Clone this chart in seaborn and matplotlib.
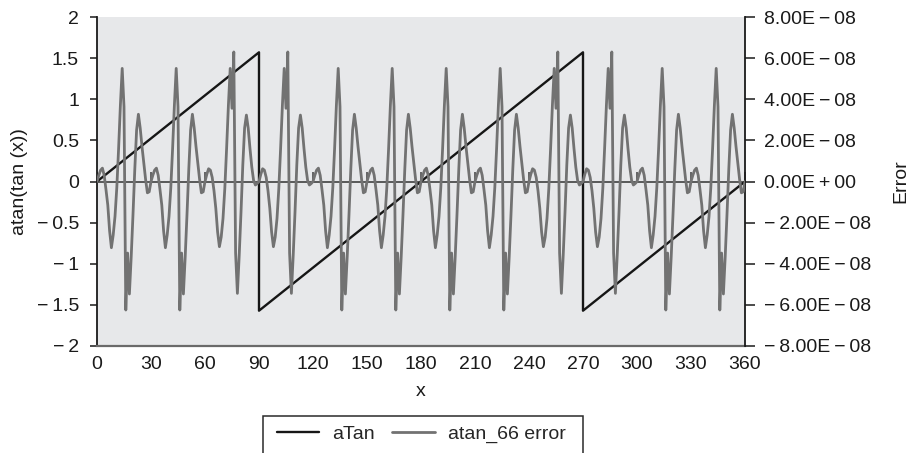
import numpy as np
import pandas as pd
import matplotlib
matplotlib.use("Agg")
import matplotlib.pyplot as plt
import seaborn as sns
from matplotlib.patches import Rectangle

# ---- data -----------------------------------------------------------------
# atan(tan(x)) in radians, x in degrees (sawtooth with jumps at 90 and 270)
atan_x = [0, 90, 90, 270, 270, 360]
atan_y = [0.0, 1.5708, -1.5708, 1.5708, -1.5708, 0.0]

# atan_66 error in units of 1e-8, one value per degree, in 30-degree stretches
err_000 = [0.00, 0.30, 0.55, 0.65, 0.30, -0.40, -1.15, -2.40, -3.22, -2.60, -1.70, -0.30, 1.60, 3.72, 5.50,
           3.64, -6.25, -3.48, -5.47, -3.66, -1.60, 0.60, 2.50, 3.27, 2.60, 1.70, 0.90, 0.10, -0.55, -0.50]
err_030 = [0.00, 0.30, 0.55, 0.65, 0.30, -0.40, -1.15, -2.40, -3.22, -2.60, -1.70, -0.30, 1.60, 3.72, 5.50,
           3.64, -6.25, -3.48, -5.47, -3.66, -1.60, 0.60, 2.50, 3.27, 2.60, 1.70, 0.90, 0.10, -0.55, -0.50]
err_060 = [0.00, 0.35, 0.62, 0.55, 0.20, -0.45, -1.30, -2.45, -3.17, -2.70, -1.80, -0.35, 1.60, 3.70, 5.50,
           3.56, 6.30, -3.48, -5.44, -3.60, -1.50, 0.80, 2.60, 3.23, 2.60, 1.60, 0.70, 0.05, -0.17, -0.10]
err_090 = [0.00, 0.35, 0.62, 0.55, 0.20, -0.45, -1.30, -2.45, -3.17, -2.70, -1.80, -0.35, 1.60, 3.70, 5.50,
           3.56, 6.30, -3.48, -5.44, -3.60, -1.50, 0.80, 2.60, 3.23, 2.60, 1.60, 0.70, 0.05, -0.17, -0.10]
err_120 = [0.00, 0.30, 0.55, 0.65, 0.30, -0.40, -1.15, -2.40, -3.22, -2.60, -1.70, -0.30, 1.60, 3.72, 5.50,
           3.64, -6.25, -3.48, -5.47, -3.66, -1.60, 0.60, 2.50, 3.27, 2.60, 1.70, 0.90, 0.10, -0.55, -0.50]
err_150 = [0.00, 0.30, 0.55, 0.65, 0.30, -0.40, -1.15, -2.40, -3.22, -2.60, -1.70, -0.30, 1.60, 3.72, 5.50,
           3.64, -6.25, -3.48, -5.47, -3.66, -1.60, 0.60, 2.50, 3.27, 2.60, 1.70, 0.90, 0.10, -0.55, -0.50]
err_180 = [0.00, 0.30, 0.55, 0.65, 0.30, -0.40, -1.15, -2.40, -3.22, -2.60, -1.70, -0.30, 1.60, 3.72, 5.50,
           3.64, -6.25, -3.48, -5.47, -3.66, -1.60, 0.60, 2.50, 3.27, 2.60, 1.70, 0.90, 0.10, -0.55, -0.50]
err_210 = [0.00, 0.30, 0.55, 0.65, 0.30, -0.40, -1.15, -2.40, -3.22, -2.60, -1.70, -0.30, 1.60, 3.72, 5.50,
           3.64, -6.25, -3.48, -5.47, -3.66, -1.60, 0.60, 2.50, 3.27, 2.60, 1.70, 0.90, 0.10, -0.55, -0.50]
err_240 = [0.00, 0.35, 0.62, 0.55, 0.20, -0.45, -1.30, -2.45, -3.17, -2.70, -1.80, -0.35, 1.60, 3.70, 5.50,
           3.56, 6.30, -3.48, -5.44, -3.60, -1.50, 0.80, 2.60, 3.23, 2.60, 1.60, 0.70, 0.05, -0.17, -0.10]
err_270 = [0.00, 0.35, 0.62, 0.55, 0.20, -0.45, -1.30, -2.45, -3.17, -2.70, -1.80, -0.35, 1.60, 3.70, 5.50,
           3.56, 6.30, -3.48, -5.44, -3.60, -1.50, 0.80, 2.60, 3.23, 2.60, 1.60, 0.70, 0.05, -0.17, -0.10]
err_300 = [0.00, 0.30, 0.55, 0.65, 0.30, -0.40, -1.15, -2.40, -3.22, -2.60, -1.70, -0.30, 1.60, 3.72, 5.50,
           3.64, -6.25, -3.48, -5.47, -3.66, -1.60, 0.60, 2.50, 3.27, 2.60, 1.70, 0.90, 0.10, -0.55, -0.50]
err_330 = [0.00, 0.30, 0.55, 0.65, 0.30, -0.40, -1.15, -2.40, -3.22, -2.60, -1.70, -0.30, 1.60, 3.72, 5.50,
           3.64, -6.25, -3.48, -5.47, -3.66, -1.60, 0.60, 2.50, 3.27, 2.60, 1.70, 0.90, 0.10, -0.55, -0.50]
err_360 = [0.00]

x_ticks = [0, 30, 60, 90, 120, 150, 180, 210, 240, 270, 300, 330, 360]
left_ticks = [-2, -1.5, -1, -0.5, 0, 0.5, 1, 1.5, 2]
left_labels = ["\u2212\u20092", "\u2212\u20091.5", "\u2212\u20091", "\u2212\u20090.5", "0",
               "0.5", "1", "1.5", "2"]
right_ticks = [-8e-8, -6e-8, -4e-8, -2e-8, 0, 2e-8, 4e-8, 6e-8, 8e-8]
right_labels = ["\u2212\u20098.00E\u2009\u2212\u200908", "\u2212\u20096.00E\u2009\u2212\u200908",
                "\u2212\u20094.00E\u2009\u2212\u200908", "\u2212\u20092.00E\u2009\u2212\u200908",
                "0.00E\u2009+\u200900",
                "2.00E\u2009\u2212\u200908", "4.00E\u2009\u2212\u200908",
                "6.00E\u2009\u2212\u200908", "8.00E\u2009\u2212\u200908"]

# ---- frames -----------------------------------------------------------------
error_e8 = (err_000 + err_030 + err_060 + err_090 + err_120 + err_150 + err_180 +
            err_210 + err_240 + err_270 + err_300 + err_330 + err_360)
angle_deg = np.arange(len(error_e8))
err_df = pd.DataFrame({"x": angle_deg, "err": np.array(error_e8) * 1e-8})
atan_df = pd.DataFrame({"x": atan_x, "y": atan_y})

# ---- style ------------------------------------------------------------------
sns.set_style("white")
plt.rcParams["font.family"] = ["Liberation Sans", "DejaVu Sans"]
plt.rcParams["font.size"] = 14

W, H = 914, 453
fig = plt.figure(figsize=(W / 100, H / 100), dpi=100)
fig.patch.set_facecolor("white")
left_px, right_px, top_px, bottom_px = 97, 745, 17, 346
ax = fig.add_axes([left_px / W, 1 - bottom_px / H, (right_px - left_px) / W, (bottom_px - top_px) / H])
ax.set_facecolor("#e7e8ea")
ax2 = ax.twinx()
ax2.patch.set_visible(False)

# zero line with upward tick marks every 30 degrees
ax.axhline(0, color="#4d4d4d", lw=1.3, zorder=1)
ax.plot(x_ticks, [0] * len(x_ticks), ls="none", marker=2, ms=7, mew=1.2, color="#4d4d4d", zorder=1)

sns.lineplot(data=atan_df, x="x", y="y", ax=ax, color="#161616", lw=1.7,
             estimator=None, sort=False, legend=False, zorder=3)
sns.lineplot(data=err_df, x="x", y="err", ax=ax2, color="#727272", lw=2.0,
             estimator=None, sort=False, legend=False, zorder=3)

ax.set_xlim(0, 360)
ax.set_ylim(-2, 2)
ax2.set_ylim(-8e-8, 8e-8)

ax.set_xticks(x_ticks)
ax.set_xticklabels([str(v) for v in x_ticks])
ax.tick_params(axis="x", length=0, pad=7, labelsize=14, colors="#1a1a1a")
ax.set_yticks(left_ticks)
ax.set_yticklabels(left_labels)
ax.tick_params(axis="y", direction="out", length=5, width=1.1, pad=8, labelsize=14, colors="#1a1a1a", left=True)
ax2.set_yticks(right_ticks)
ax2.set_yticklabels(right_labels)
ax2.tick_params(axis="y", direction="out", length=7, width=1.1, pad=7, labelsize=14, colors="#1a1a1a", right=True)

for s in ["top", "right"]:
    ax.spines[s].set_visible(False)
for s in ["top", "left", "bottom"]:
    ax2.spines[s].set_visible(False)
ax.spines["left"].set_color("#1a1a1a")
ax.spines["left"].set_linewidth(1.3)
ax.spines["bottom"].set_color("#6a6a6a")
ax.spines["bottom"].set_linewidth(1.6)
ax2.spines["right"].set_color("#1a1a1a")
ax2.spines["right"].set_linewidth(1.3)

ax.set_xlabel("x", fontsize=14, color="#1a1a1a")
ax.xaxis.set_label_coords(0.5, -0.112)
ax.set_ylabel("atan(tan (x))", fontsize=14, color="#1a1a1a")
ax.yaxis.set_label_coords(-0.106, 0.5)
ax2.set_ylabel("Error", fontsize=14, color="#1a1a1a")
ax2.yaxis.set_label_coords(1.227, 0.5)

# legend below the plot, framed by an open-bottom box
handles = [ax.lines[-1], ax2.lines[-1]]
fig.legend(handles=handles, labels=["aTan", "atan_66 error"], loc="center",
           bbox_to_anchor=(421 / W, 1 - 434 / H), ncol=2, frameon=False, fontsize=14,
           handlelength=2.2, handletextpad=0.65, columnspacing=0.9)
fig.add_artist(Rectangle((263 / W, 1 - 480 / H), (583 - 263) / W, (480 - 416) / H,
                         transform=fig.transFigure, fill=False, edgecolor="#2a2a2a", lw=1.1,
                         clip_on=False))

fig.savefig("out.png", dpi=100, facecolor="white")
